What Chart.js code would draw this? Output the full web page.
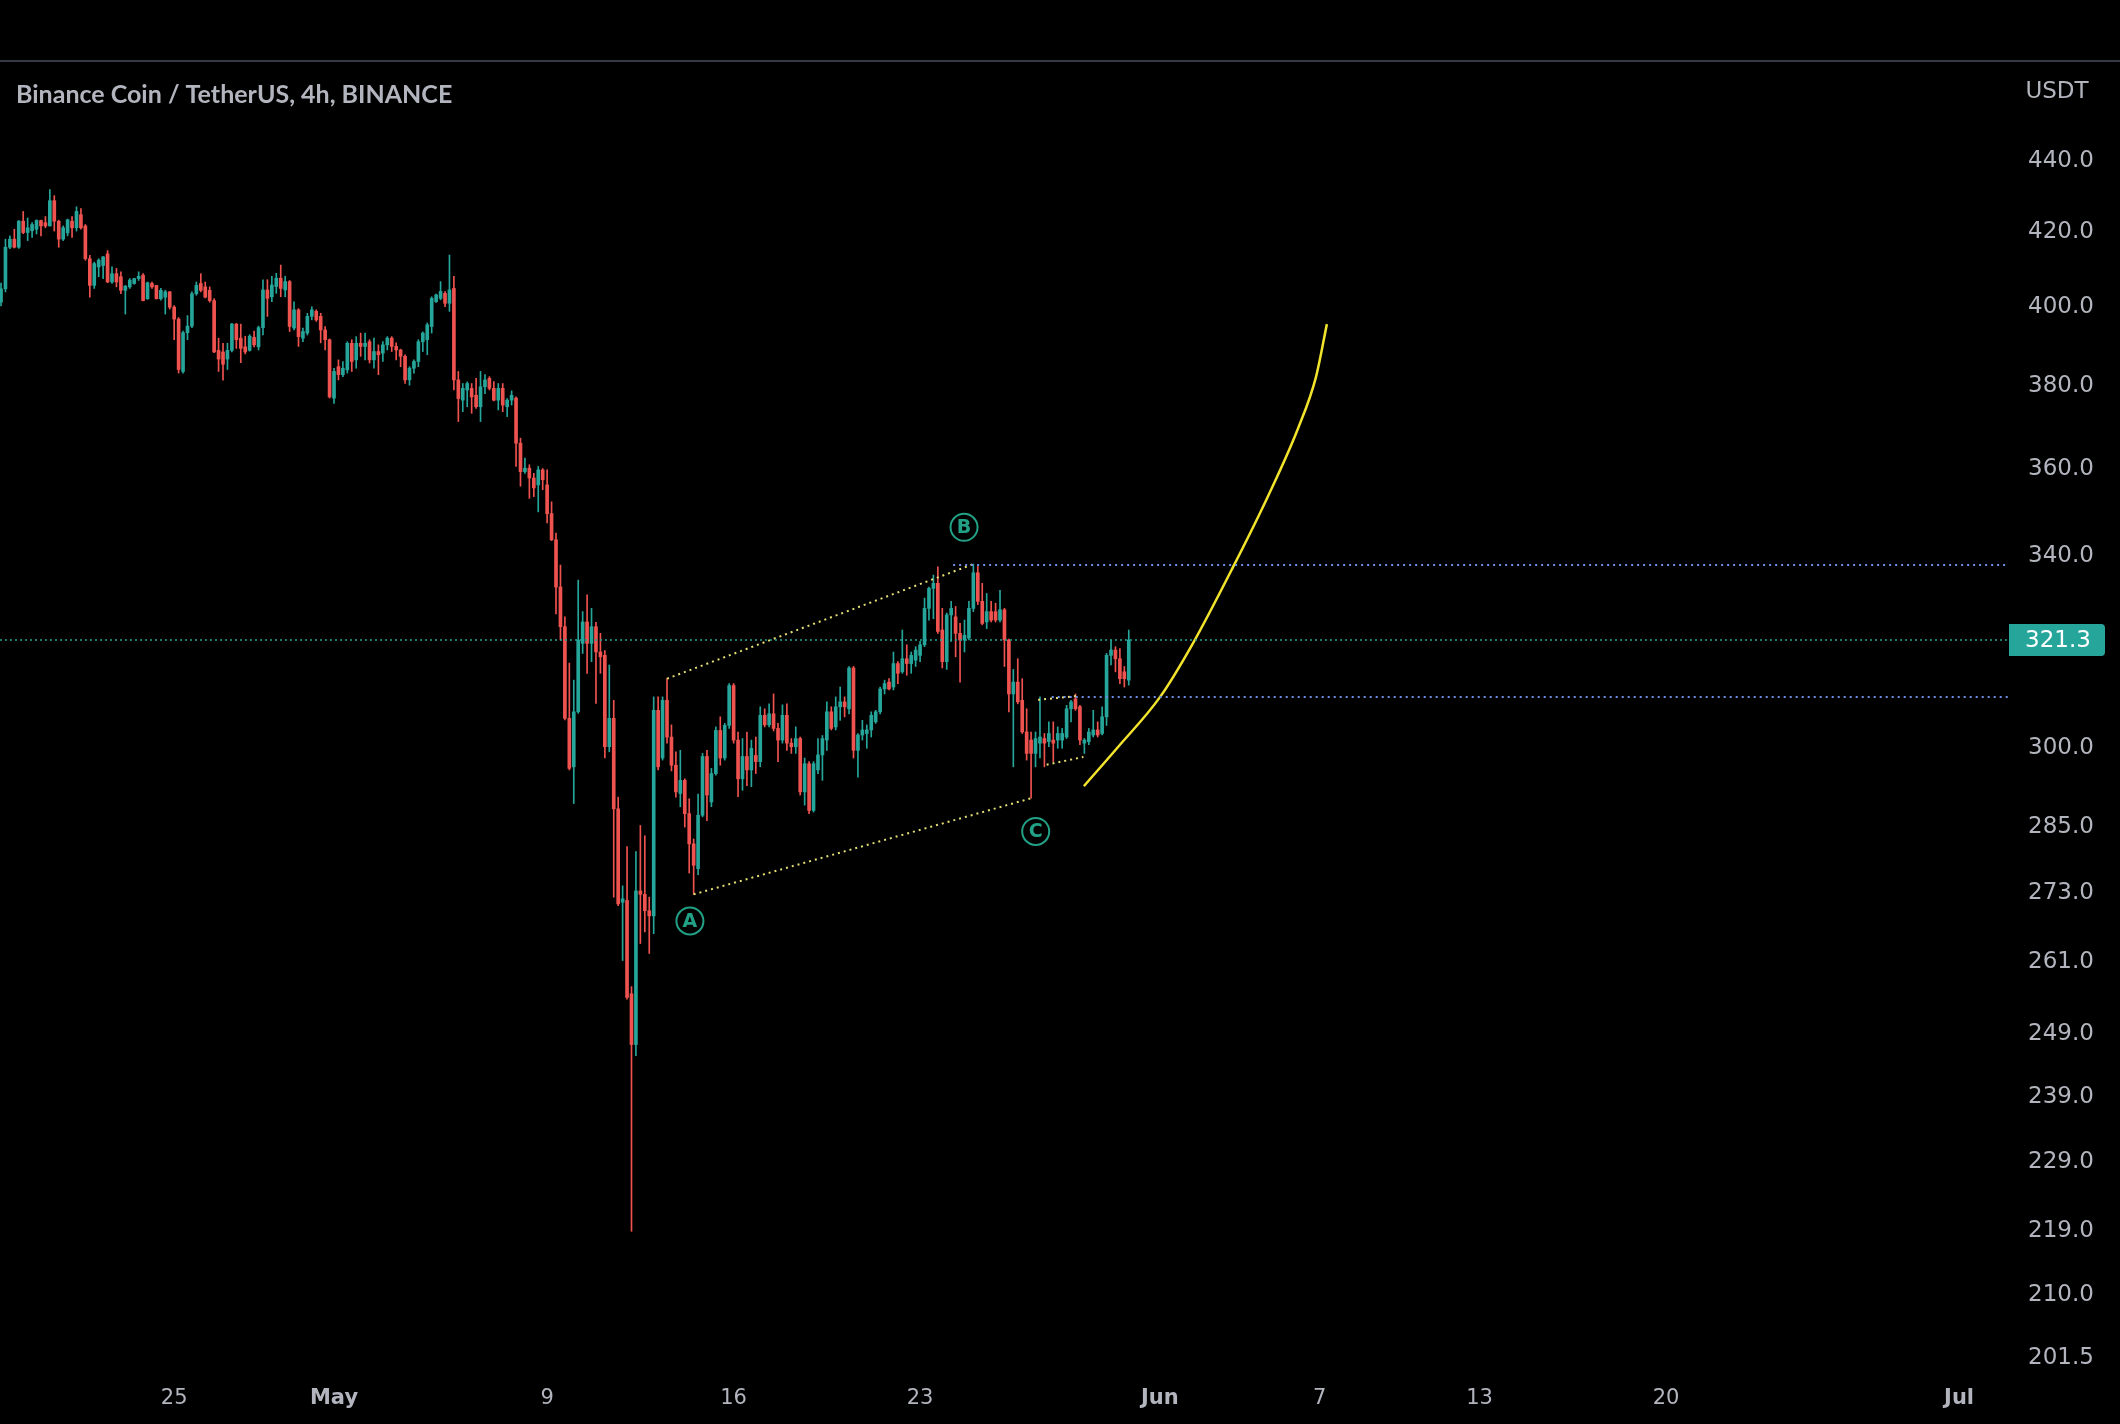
<!DOCTYPE html>
<html>
<head>
<meta charset="utf-8">
<script src="https://cdn.jsdelivr.net/npm/chart.js@4.4.1/dist/chart.umd.min.js"></script>
<style>
  html, body { margin: 0; padding: 0; background: #000; }
  canvas { display: block; }
</style>
</head>
<body>
<canvas id="chart" width="2120" height="1424"></canvas>
<script>
// BNB/USDT 4h candles, first candle Apr 18 12:00 (x axis = days from May 1 00:00)
const firstCandleDay = -12.5
const candleStep = 1 / 6

const opens = [
  400.5, 404.0, 415.1, 417.3, 415.1, 422.2, 419.1, 419.6, 420.0, 422.4,
  421.8, 420.9, 427.9, 422.2, 417.3, 419.0, 422.2, 420.4, 424.0, 420.9,
  412.0, 404.9, 409.8, 410.2, 413.3, 405.8, 408.0, 407.2, 403.6, 404.5,
  405.4, 406.7, 407.6, 401.4, 405.4, 404.9, 401.4, 401.8, 403.2, 399.2,
  396.1, 382.8, 392.6, 394.3, 402.7, 405.4, 404.5, 403.6, 400.9, 388.1,
  387.7, 385.9, 388.1, 394.8, 391.2, 389.0, 388.1, 391.4, 389.0, 393.9,
  403.7, 401.9, 404.6, 406.8, 403.7, 405.9, 393.8, 398.5, 391.2, 392.5,
  396.8, 398.1, 396.8, 393.3, 390.8, 376.2, 384.0, 382.0, 383.2, 389.9,
  385.7, 389.9, 389.1, 390.3, 385.7, 387.8, 387.4, 389.5, 391.2, 389.1,
  388.2, 386.6, 380.7, 383.6, 385.3, 390.3, 390.8, 394.2, 400.6, 401.5,
  402.8, 400.2, 404.1, 380.7, 375.7, 378.2, 378.6, 376.9, 374.1, 379.0,
  381.1, 378.6, 375.7, 378.6, 374.1, 375.7, 376.2, 365.3, 358.6, 359.4,
  357.1, 355.5, 359.0, 355.5, 348.9, 343.0, 332.6, 324.1, 305.3, 295.8,
  306.6, 320.6, 325.1, 320.6, 324.1, 318.8, 318.1, 299.7, 305.3, 287.8,
  270.8, 271.1, 255.1, 246.8, 272.8, 272.2, 269.3, 268.4, 306.9, 297.5,
  308.9, 301.6, 296.1, 290.7, 293.2, 286.9, 281.3, 276.8, 286.6, 297.8,
  289.1, 294.5, 302.9, 297.5, 303.9, 311.9, 301.0, 293.5, 297.8, 295.2,
  298.0, 296.8, 305.9, 304.0, 306.2, 303.3, 301.0, 305.9, 300.4, 299.7,
  301.3, 291.0, 296.4, 287.5, 295.2, 298.1, 301.0, 306.6, 303.6, 307.6,
  308.6, 307.2, 315.5, 299.0, 302.0, 302.3, 303.0, 304.6, 306.6, 311.2,
  312.6, 311.6, 316.4, 314.7, 317.4, 316.4, 317.1, 318.1, 320.3, 328.0,
  332.3, 333.4, 323.4, 316.8, 326.6, 326.2, 322.7, 321.3, 321.7, 328.0,
  335.7, 329.5, 325.1, 327.3, 327.3, 325.5, 327.7, 321.3, 310.2, 312.6,
  308.9, 302.6, 301.0, 298.4, 300.4, 301.3, 300.7, 301.0, 301.0, 301.0,
  301.6, 307.2, 309.2, 307.6, 300.4, 300.7, 302.0, 303.0, 302.3, 305.6,
  318.1, 319.2, 317.4, 314.7, 313.0
]
const highs = [
  405.5, 417.3, 418.2, 420.0, 422.4, 424.9, 423.1, 421.8, 422.6, 422.5,
  423.5, 431.0, 429.3, 422.5, 420.9, 422.8, 423.5, 426.2, 425.7, 421.3,
  412.9, 411.1, 412.0, 412.6, 414.2, 409.8, 409.4, 408.5, 404.9, 406.7,
  406.8, 408.5, 408.0, 405.8, 405.8, 404.9, 404.1, 403.6, 403.3, 399.6,
  396.5, 393.0, 397.0, 403.2, 405.8, 408.0, 405.8, 404.5, 401.4, 391.2,
  389.9, 389.9, 395.0, 395.0, 394.8, 391.7, 392.1, 393.0, 394.3, 406.4,
  406.4, 407.3, 408.1, 410.3, 407.3, 406.2, 400.6, 398.8, 393.8, 397.6,
  399.3, 398.5, 397.6, 394.2, 391.0, 383.6, 385.7, 385.3, 390.3, 390.8,
  391.6, 392.5, 392.5, 390.8, 391.2, 389.5, 390.3, 391.6, 391.6, 390.0,
  388.4, 387.0, 384.0, 385.7, 390.8, 392.8, 395.1, 401.9, 402.6, 405.9,
  403.3, 413.0, 407.3, 382.8, 379.8, 380.2, 379.8, 381.1, 382.8, 382.0,
  381.5, 380.3, 379.8, 379.8, 376.1, 378.0, 376.5, 366.5, 361.8, 360.2,
  358.2, 359.8, 359.3, 359.0, 351.6, 344.5, 337.4, 326.2, 316.5, 313.0,
  334.1, 327.3, 330.9, 328.0, 325.0, 322.7, 319.1, 316.1, 308.9, 290.0,
  273.7, 280.8, 256.3, 279.9, 284.7, 282.8, 271.7, 309.6, 309.6, 309.6,
  313.3, 304.0, 298.7, 299.0, 293.5, 289.7, 282.2, 290.6, 298.4, 299.0,
  295.5, 303.6, 305.6, 304.3, 312.3, 312.3, 302.6, 301.3, 302.6, 301.0,
  301.6, 307.6, 307.2, 308.2, 310.2, 304.3, 308.0, 308.2, 301.3, 303.6,
  301.6, 297.5, 296.8, 296.8, 301.3, 301.9, 308.6, 307.6, 309.6, 311.6,
  309.6, 315.8, 315.8, 302.3, 304.9, 304.0, 306.6, 306.9, 311.6, 313.0,
  313.3, 318.8, 316.8, 323.4, 320.3, 318.8, 319.9, 321.0, 330.2, 332.6,
  335.2, 337.0, 328.0, 327.0, 329.5, 328.4, 324.8, 325.5, 329.5, 337.6,
  337.1, 333.4, 331.2, 329.5, 329.1, 331.9, 328.0, 321.5, 315.2, 317.4,
  313.3, 307.2, 302.6, 302.6, 309.6, 302.3, 304.6, 304.6, 303.6, 303.3,
  307.9, 308.9, 310.2, 307.9, 301.3, 303.3, 306.9, 304.6, 307.6, 318.5,
  321.3, 319.9, 319.5, 315.8, 323.4
]
const lows = [
  399.5, 403.2, 414.7, 414.9, 414.8, 418.8, 416.9, 417.8, 418.7, 418.2,
  420.4, 420.9, 419.5, 415.1, 416.9, 418.2, 417.8, 419.5, 420.0, 411.6,
  401.8, 404.1, 407.2, 406.7, 405.6, 405.4, 404.5, 402.7, 397.4, 404.1,
  405.2, 406.2, 400.8, 401.2, 404.1, 401.3, 401.0, 397.4, 398.7, 390.8,
  382.4, 382.4, 390.8, 393.9, 402.3, 403.2, 401.6, 400.5, 387.5, 382.8,
  380.6, 383.3, 387.7, 388.6, 385.0, 387.2, 387.9, 389.0, 388.2, 392.0,
  396.8, 400.6, 402.8, 401.9, 401.9, 392.9, 393.3, 389.1, 390.3, 392.0,
  395.9, 395.5, 390.0, 388.2, 376.2, 374.9, 380.7, 381.5, 382.4, 382.8,
  383.6, 386.6, 385.7, 384.9, 383.6, 382.0, 385.3, 388.2, 387.8, 385.7,
  384.0, 379.8, 379.4, 382.4, 384.0, 387.8, 387.0, 392.5, 400.4, 401.1,
  399.3, 398.1, 378.2, 370.5, 372.9, 374.1, 372.5, 373.7, 370.5, 377.3,
  378.2, 375.5, 373.3, 372.9, 371.7, 374.5, 359.8, 355.2, 358.2, 352.4,
  352.8, 349.3, 354.4, 346.8, 342.8, 326.8, 321.3, 305.0, 295.2, 288.8,
  306.3, 318.5, 314.4, 316.8, 308.3, 314.4, 297.5, 298.7, 271.7, 270.2,
  260.7, 254.2, 218.5, 245.0, 263.6, 265.6, 261.9, 265.3, 295.2, 297.1,
  300.4, 295.0, 290.0, 288.2, 284.4, 276.0, 272.2, 275.7, 286.3, 285.6,
  288.2, 294.2, 296.1, 297.1, 303.3, 300.4, 290.1, 291.3, 292.2, 292.0,
  294.5, 295.8, 303.6, 303.6, 302.8, 296.8, 300.4, 299.0, 298.4, 298.4,
  290.4, 288.5, 286.9, 287.2, 294.5, 293.2, 299.0, 303.0, 303.0, 304.9,
  305.6, 306.2, 297.5, 293.8, 301.0, 299.4, 301.6, 304.3, 306.2, 310.2,
  311.0, 311.0, 312.3, 314.4, 314.0, 314.4, 315.8, 316.8, 319.9, 325.5,
  325.8, 322.7, 315.5, 315.2, 321.0, 317.8, 312.6, 318.8, 321.3, 327.3,
  328.8, 324.5, 323.7, 325.1, 325.1, 325.1, 315.8, 306.6, 295.8, 308.2,
  302.3, 297.1, 289.8, 295.8, 297.5, 295.8, 299.7, 296.8, 299.4, 299.4,
  301.3, 304.6, 306.9, 300.1, 298.4, 300.1, 301.6, 301.6, 302.0, 303.9,
  316.1, 314.7, 312.3, 311.6, 312.0
]
const closes = [
  404.0, 415.1, 417.3, 415.1, 422.2, 419.1, 420.4, 421.3, 422.4, 420.9,
  420.9, 427.9, 422.2, 417.3, 420.4, 422.6, 420.4, 424.9, 420.4, 412.0,
  404.9, 410.7, 411.6, 412.5, 405.8, 408.0, 405.8, 403.6, 404.7, 406.3,
  406.7, 407.3, 400.9, 405.6, 404.5, 401.4, 403.6, 403.2, 399.2, 396.1,
  383.3, 392.6, 394.3, 402.7, 404.9, 403.6, 401.8, 400.9, 387.7, 385.9,
  384.6, 388.1, 394.8, 390.8, 388.6, 387.7, 391.7, 389.5, 393.9, 403.7,
  401.5, 405.0, 406.8, 404.1, 405.9, 394.2, 398.5, 391.6, 392.9, 396.8,
  398.5, 395.9, 393.3, 390.8, 376.5, 382.8, 382.0, 383.6, 389.9, 385.3,
  389.9, 389.1, 389.9, 385.7, 387.8, 387.0, 389.5, 391.2, 389.1, 388.2,
  386.6, 380.7, 383.6, 385.3, 390.3, 392.5, 394.6, 401.5, 402.4, 403.3,
  400.2, 403.7, 380.7, 376.1, 378.6, 379.8, 376.5, 374.1, 379.0, 380.7,
  378.6, 375.7, 378.6, 374.5, 375.7, 376.9, 365.3, 358.6, 359.4, 357.1,
  354.8, 359.0, 356.7, 348.9, 343.0, 332.6, 324.1, 305.3, 295.5, 306.6,
  321.3, 325.1, 320.6, 324.1, 318.8, 317.8, 299.7, 305.3, 287.8, 270.5,
  271.4, 254.5, 246.8, 272.8, 272.2, 269.3, 268.4, 306.9, 295.8, 308.9,
  301.6, 296.1, 291.0, 293.2, 286.9, 281.3, 277.4, 286.6, 297.8, 290.4,
  294.5, 302.9, 297.5, 303.9, 311.9, 301.0, 293.5, 297.8, 295.2, 299.4,
  296.8, 305.9, 304.0, 306.2, 303.3, 301.0, 305.9, 300.4, 299.7, 301.3,
  291.0, 296.4, 287.5, 296.4, 298.1, 301.3, 306.6, 303.3, 307.6, 308.6,
  307.6, 315.5, 299.0, 302.0, 303.0, 303.0, 305.9, 306.6, 311.2, 312.3,
  311.2, 316.4, 314.4, 317.4, 316.4, 318.1, 319.2, 320.3, 328.0, 332.3,
  333.4, 323.1, 316.8, 326.6, 328.0, 322.7, 321.3, 322.3, 328.0, 335.7,
  329.5, 324.8, 327.3, 325.5, 325.5, 327.7, 321.3, 310.2, 312.6, 308.6,
  302.6, 298.4, 298.4, 301.3, 301.6, 300.4, 302.3, 300.4, 302.3, 302.3,
  307.2, 308.6, 307.2, 301.0, 301.0, 302.6, 303.0, 302.0, 305.6, 318.1,
  319.2, 317.4, 313.3, 313.3, 321.3
]

const lastPrice = 321.3
const priceTicks = [440, 420, 400, 380, 360, 340, 300, 285, 273, 261, 249, 239, 229, 219, 210, 201.5]
const dateTicks = [-6, 0, 8, 15, 22, 31, 37, 43, 50, 61]
const dateLabels = ['25', 'May', '9', '16', '23', 'Jun', '7', '13', '20', 'Jul']
const monthTicks = [0, 31, 61]

// drawings: [day, price]
const upperChannel = [[12.5, 313.3], [24.0, 337.6]]
const lowerChannel = [[13.5, 272.2], [26.17, 289.8]]
const wedgeTop = [[26.43, 309.0], [27.93, 309.8]]
const wedgeBottom = [[26.75, 296.2], [28.13, 297.7]]
const levelHigh = [[23.24, 337.4], [63, 337.4]]
const levelLow = [[26.94, 309.6], [63, 309.6]]
const projection = [[28.15, 292.1], [29.39, 299.4], [31.01, 309.6], [32.21, 320.3], [33.75, 337.0],
                    [35.06, 352.9], [36.19, 368.9], [36.86, 381.4], [37.27, 394.8]]
const waveLabels = ['A', 'B', 'C']
const waveDays = [13.36, 23.65, 26.34]
const wavePrices = [267.5, 345.8, 283.6]

const xMin = -12.538, xMax = 62.875
const yMin = 199.6, yMax = 468.4

const upColor = '#26a69a'
const downColor = '#ef5350'
const candleDays = closes.map((c, i) => firstCandleDay + i * candleStep)
const candleColors = closes.map((c, i) => c >= opens[i] ? upColor : downColor)

function dottedLine(points, color, dash, width) {
  return {
    type: 'line',
    data: points.map(p => ({ x: p[0], y: p[1] })),
    borderColor: color,
    borderWidth: width,
    borderDash: dash,
    pointRadius: 0,
    fill: false,
    order: 0
  }
}

const overlay = {
  id: 'overlay',
  beforeDraw(chart) {
    const ctx = chart.ctx
    ctx.save()
    ctx.fillStyle = '#000'
    ctx.fillRect(0, 0, chart.width, chart.height)
    ctx.fillStyle = '#363a45'
    ctx.fillRect(0, 60, chart.width, 2)
    ctx.restore()
  },
  afterDatasetsDraw(chart) {
    const { ctx, scales: { x, y } } = chart
    ctx.save()
    waveLabels.forEach((l, i) => {
      const px = x.getPixelForValue(waveDays[i])
      const py = y.getPixelForValue(wavePrices[i])
      ctx.beginPath()
      ctx.arc(px, py, 13.5, 0, Math.PI * 2)
      ctx.strokeStyle = '#22a186'
      ctx.lineWidth = 2
      ctx.stroke()
      ctx.fillStyle = '#22a186'
      ctx.font = 'bold 19px "DejaVu Sans"'
      ctx.textAlign = 'center'
      ctx.textBaseline = 'middle'
      ctx.fillText(l, px, py + 1)
    })
    ctx.restore()
  },
  afterDraw(chart) {
    const { ctx, scales: { y } } = chart
    ctx.save()
    ctx.fillStyle = '#b2b5be'
    ctx.font = 'bold 25px Lato'
    ctx.textAlign = 'left'
    ctx.textBaseline = 'middle'
    ctx.fillText('Binance Coin / TetherUS, 4h, BINANCE', 16, 95)
    ctx.font = '23px "DejaVu Sans"'
    ctx.textAlign = 'center'
    ctx.fillText('USDT', 2057, 92)
    // last price box
    const py = y.getPixelForValue(lastPrice)
    ctx.fillStyle = upColor
    ctx.beginPath()
    ctx.roundRect(2009, py - 16, 96, 32, [0, 4, 4, 0])
    ctx.fill()
    ctx.fillStyle = '#ffffff'
    ctx.fillText(lastPrice.toFixed(1), 2058, py + 1)
    ctx.restore()
  }
}

new Chart(document.getElementById('chart'), {
  type: 'bar',
  data: {
    datasets: [
      dottedLine([[xMin, lastPrice], [xMax, lastPrice]], upColor, [2, 3], 1.5),
      dottedLine(levelHigh, '#6f8ee6', [2, 4], 2),
      dottedLine(levelLow, '#6f8ee6', [2, 4], 2),
      dottedLine(upperChannel, '#e6df72', [2, 4], 2),
      dottedLine(lowerChannel, '#e6df72', [2, 4], 2),
      dottedLine(wedgeTop, '#e6df72', [2, 4], 2),
      dottedLine(wedgeBottom, '#e6df72', [2, 4], 2),
      {
        type: 'line',
        data: projection.map(p => ({ x: p[0], y: p[1] })),
        borderColor: '#f2e42c',
        borderWidth: 2.5,
        cubicInterpolationMode: 'monotone',
        pointRadius: 0,
        fill: false,
        order: 0
      },
      {
        label: 'wicks',
        data: candleDays.map((d, i) => ({ x: d, y: [lows[i], highs[i]] })),
        backgroundColor: candleColors,
        barThickness: 1,
        grouped: false,
        borderWidth: 0,
        order: 2
      },
      {
        label: 'bodies',
        data: candleDays.map((d, i) => ({ x: d, y: [opens[i], closes[i]] })),
        backgroundColor: candleColors,
        barThickness: 3,
        minBarLength: 1,
        grouped: false,
        borderWidth: 0,
        order: 1
      }
    ]
  },
  options: {
    responsive: false,
    animation: false,
    events: [],
    layout: { padding: { top: 62, left: 0, right: 0, bottom: 0 } },
    plugins: {
      legend: { display: false },
      tooltip: { enabled: false }
    },
    scales: {
      x: {
        type: 'linear',
        min: xMin,
        max: xMax,
        offset: false,
        bounds: 'data',
        grid: { display: false, drawTicks: false },
        border: { display: false },
        afterBuildTicks: s => { s.ticks = dateTicks.map(v => ({ value: v })) },
        afterFit: s => { s.height = 54 },
        ticks: {
          autoSkip: false,
          maxRotation: 0,
          padding: 16,
          color: '#b2b5be',
          font: c => ({
            family: 'DejaVu Sans',
            size: 21,
            weight: c.tick && monthTicks.includes(c.tick.value) ? 'bold' : 'normal'
          }),
          callback: (v, i) => dateLabels[i]
        }
      },
      y: {
        type: 'logarithmic',
        position: 'right',
        min: yMin,
        max: yMax,
        bounds: 'data',
        grid: { display: false, drawTicks: false },
        border: { display: false },
        afterBuildTicks: s => { s.ticks = priceTicks.map(v => ({ value: v })) },
        afterFit: s => { s.width = 111 },
        ticks: {
          autoSkip: false,
          padding: 19,
          labelOffset: 3,
          color: '#b2b5be',
          font: { family: 'DejaVu Sans', size: 23 },
          callback: v => Number(v).toFixed(1)
        }
      }
    }
  },
  plugins: [overlay]
})
</script>
</body>
</html>
